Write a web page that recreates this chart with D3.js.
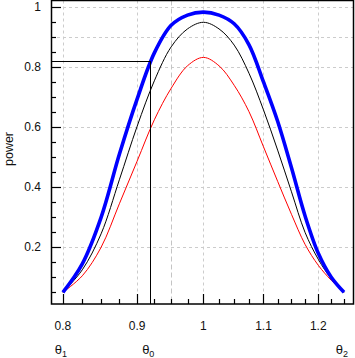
<!DOCTYPE html>
<html>
<head>
<meta charset="utf-8">
<script src="https://cdn.jsdelivr.net/npm/d3@7"></script>
<style>
  html, body { margin: 0; padding: 0; background: #fff; }
  svg { display: block; }
  text { font-family: "Liberation Sans", Arial, sans-serif; fill: #111; }
</style>
</head>
<body>
<svg id="chart" width="355" height="358"></svg>
<script>
// ---- data ----
const theta = [0.8, 0.825, 0.85, 0.875, 0.9, 0.925, 0.95, 0.975, 1.0, 1.025, 1.05, 1.075, 1.1, 1.125, 1.15, 1.175, 1.2, 1.225, 1.25];
const powerBlue  = [0.05, 0.145, 0.30, 0.51, 0.694, 0.848, 0.94, 0.974, 0.984, 0.974, 0.945, 0.875, 0.751, 0.62, 0.465, 0.305, 0.18, 0.10, 0.05];
const powerBlack = [0.05, 0.125, 0.245, 0.425, 0.603, 0.755, 0.868, 0.928, 0.95, 0.928, 0.874, 0.78, 0.658, 0.524, 0.385, 0.25, 0.16, 0.095, 0.05];
const powerRed   = [0.05, 0.105, 0.20, 0.345, 0.487, 0.625, 0.73, 0.805, 0.833, 0.805, 0.74, 0.652, 0.535, 0.42, 0.31, 0.21, 0.14, 0.09, 0.05];
const xMajorTicks = [0.8, 0.9, 1, 1.1, 1.2];
const xTickLabels = ["0.8", "0.9", "1", "1.1", "1.2"];
const xMinorTicks = [0.825, 0.85, 0.875, 0.925, 0.95, 0.975, 1.025, 1.05, 1.075, 1.125, 1.15, 1.175, 1.225, 1.25];
const yMajorTicks = [0.2, 0.4, 0.6, 0.8, 1];
const yTickLabels = ["0.2", "0.4", "0.6", "0.8", "1"];
const yMinorTicks = [0.05, 0.1, 0.15, 0.25, 0.3, 0.35, 0.45, 0.5, 0.55, 0.65, 0.7, 0.75, 0.85, 0.9, 0.95];
const yGrid = [0.2, 0.4, 0.6, 0.8, 0.9, 1];
const xGrid = [0.8, 0.9, 1, 1.1, 1.2];
const thetaTrue = 0.95;          // dashed reference line
const theta0 = 0.919;             // θ0
const powerAtTheta0 = 0.822;
const thetaMarks = [{v: 0.8, s: "1"}, {v: 0.919, s: "0"}, {v: 1.25, s: "2"}];

// ---- layout ----
const L = 51, R = 353, T = 0.5, B = 304;
const x = d3.scaleLog().domain([0.785, 1.268]).range([L, R]);
const y = d3.scaleLinear().domain([0.011, 1.0243]).range([B, 0]);

const svg = d3.select("#chart");

// grid
const g = svg.append("g");
g.selectAll(".hg").data(yGrid).join("line")
  .attr("x1", L).attr("x2", R)
  .attr("y1", d => Math.round(y(d)) + 0.5).attr("y2", d => Math.round(y(d)) + 0.5)
  .attr("stroke", "#cccccc").attr("stroke-dasharray", "3,3");
g.selectAll(".vg").data(xGrid).join("line")
  .attr("x1", d => Math.round(x(d)) + 0.5).attr("x2", d => Math.round(x(d)) + 0.5)
  .attr("y1", T).attr("y2", B)
  .attr("stroke", "#cccccc").attr("stroke-dasharray", "3,3");
g.append("line")
  .attr("x1", Math.round(x(thetaTrue)) + 0.5).attr("x2", Math.round(x(thetaTrue)) + 0.5)
  .attr("y1", T).attr("y2", B)
  .attr("stroke", "#c4c4c4").attr("stroke-dasharray", "5,3");

// curves
const line = d3.line().x(d => x(d[0])).y(d => y(d[1])).curve(d3.curveCatmullRom.alpha(0.5));
const series = [
  {vals: powerRed, color: "#ff0000", w: 1},
  {vals: powerBlack, color: "#000000", w: 1},
  {vals: powerBlue, color: "#0000ff", w: 3.6}
];
svg.selectAll(".curve").data(series).join("path")
  .attr("d", s => line(theta.map((t, i) => [t, s.vals[i]])))
  .attr("fill", "none").attr("stroke", s => s.color).attr("stroke-width", s => s.w);

// theta0 reference lines
const x0 = Math.round(x(theta0)) + 0.5, y0 = Math.round(y(powerAtTheta0)) + 0.5;
svg.append("path")
  .attr("d", `M${x0},${B}V${y0}H${L}`)
  .attr("fill", "none").attr("stroke", "#000").attr("stroke-width", 1);

// frame
svg.append("rect").attr("x", L + 0.5).attr("y", T).attr("width", R - L).attr("height", B - T)
  .attr("fill", "none").attr("stroke", "#000").attr("stroke-width", 1.5);

// ticks
const ax = svg.append("g").attr("stroke", "#000").attr("stroke-width", 1.2);
ax.selectAll(".xM").data(xMajorTicks).join("line")
  .attr("x1", d => Math.round(x(d)) + 0.5).attr("x2", d => Math.round(x(d)) + 0.5)
  .attr("y1", B).attr("y2", B - 10);
ax.selectAll(".xm").data(xMinorTicks).join("line")
  .attr("x1", d => Math.round(x(d)) + 0.5).attr("x2", d => Math.round(x(d)) + 0.5)
  .attr("y1", B).attr("y2", B - 5);
ax.selectAll(".yM").data(yMajorTicks).join("line")
  .attr("y1", d => Math.round(y(d)) + 0.5).attr("y2", d => Math.round(y(d)) + 0.5)
  .attr("x1", L).attr("x2", L + 10);
ax.selectAll(".ym").data(yMinorTicks).join("line")
  .attr("y1", d => Math.round(y(d)) + 0.5).attr("y2", d => Math.round(y(d)) + 0.5)
  .attr("x1", L).attr("x2", L + 5);

// tick labels
svg.selectAll(".xl").data(xMajorTicks).join("text")
  .attr("x", d => x(d)).attr("y", 330)
  .attr("text-anchor", "middle").attr("font-size", 12)
  .text((d, i) => xTickLabels[i]);
svg.selectAll(".yl").data(yMajorTicks).join("text")
  .attr("x", 41).attr("y", d => y(d) + 4)
  .attr("text-anchor", "end").attr("font-size", 12)
  .text((d, i) => yTickLabels[i]);

// theta labels
const tl = svg.selectAll(".tl").data(thetaMarks).join("text")
  .attr("x", d => x(d.v) - 2).attr("y", 354)
  .attr("text-anchor", "middle").attr("font-size", 13);
tl.append("tspan").text("θ");
tl.append("tspan").attr("font-size", 9).attr("dy", 3).text(d => d.s);

// axis title
svg.append("text")
  .attr("transform", "translate(13,149) rotate(-90)")
  .attr("text-anchor", "middle").attr("font-size", 12.5)
  .text("power");
</script>
</body>
</html>
